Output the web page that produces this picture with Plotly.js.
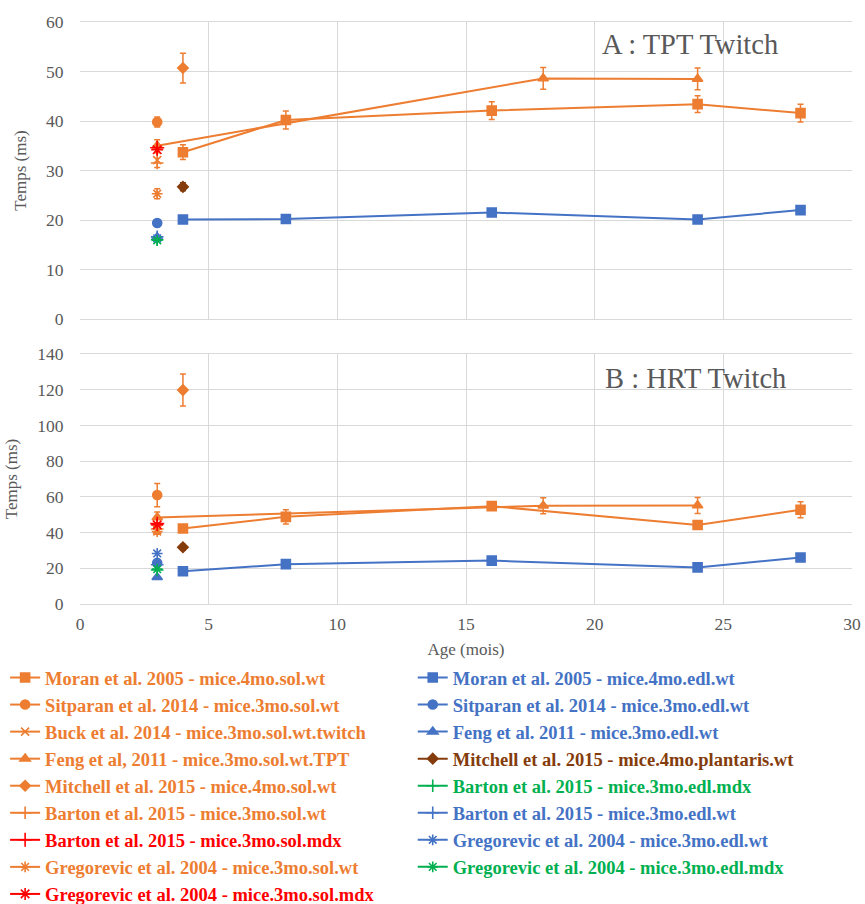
<!DOCTYPE html>
<html>
<head>
<meta charset="utf-8">
<script src="https://cdn.plot.ly/plotly-3.0.1.min.js"></script>
<style>body{margin:0;background:#fff}#chart{width:865px;height:904px}</style>
</head>
<body>
<div id="chart"></div>
<script>
// ---- Data ----
const agesMoran = [4, 8, 16, 24, 28];
const tptMoranSol = [33.7, 40.2, 42.1, 43.4, 41.6];
const tptMoranSolErr = [1.5, 1.8, 1.8, 1.7, 1.8];
const hrtMoranSol = [42.3, 48.8, 54.8, 44.2, 52.8];
const hrtMoranSolErr = [1.5, 4.0, 1.5, 1.5, 4.5];
const tptMoranEdl = [20.1, 20.2, 21.5, 20.1, 22.0];
const tptMoranEdlErr = [0.5, 0.5, 0.5, 0.5, 0.6];
const hrtMoranEdl = [18.3, 22.3, 24.3, 20.5, 26.0];
const hrtMoranEdlErr = [0.8, 1.0, 1.0, 1.0, 1.2];

const agesFengSol = [3, 18, 24];
const tptFengSol = [35.0, 48.6, 48.5];
const tptFengSolErr = [1.2, 2.2, 2.2];
const hrtFengSol = [48.5, 55.0, 55.2];
const hrtFengSolErr = [3.0, 4.5, 4.5];

const age3 = [3];
const age4 = [4];
const tptSitparanSol = [39.8], tptSitparanSolErr = [1.0];
const hrtSitparanSol = [61.0], hrtSitparanSolErr = [6.5];
const tptSitparanEdl = [19.4], hrtSitparanEdl = [23.0];
const tptBuck = [32.1], tptBuckErr = [1.5];
const hrtBuck = [41.5], hrtBuckErr = [2.0];
const tptFengEdl = [16.5], hrtFengEdl = [15.0];
const tptMitchellSol = [50.7], tptMitchellSolErr = [3.0];
const hrtMitchellSol = [119.8], hrtMitchellSolErr = [9.0];
const tptMitchellPlant = [26.7], tptMitchellPlantErr = [0.8];
const hrtMitchellPlant = [31.8], hrtMitchellPlantErr = [1.5];
const tptBartonSolWt = [31.5], hrtBartonSolWt = [42.0];
const tptBartonEdlMdx = [16.0], hrtBartonEdlMdx = [19.0];
const tptBartonSolMdx = [34.6], hrtBartonSolMdx = [45.0];
const tptBartonEdlWt = [16.6], hrtBartonEdlWt = [22.0];
const tptGregSolWt = [25.3], tptGregSolWtErr = [1.0];
const hrtGregSolWt = [40.5], hrtGregSolWtErr = [1.5];
const tptGregEdlWt = [16.3], hrtGregEdlWt = [28.3];
const tptGregSolMdx = [34.2], hrtGregSolMdx = [44.3];
const tptGregEdlMdx = [15.9], hrtGregEdlMdx = [19.5];

const ORANGE = '#ED7D31', BLUE = '#4472C4', BROWN = '#843C0C', GREEN = '#00B050', RED = '#FF0000';

// column 'legend' = left column, 'legend2' = right column
const series = [
  {name:'Moran et al. 2005 - mice.4mo.sol.wt', lg:'legend', c:ORANGE, sym:'square', sz:9, x:agesMoran, a:tptMoranSol, ae:tptMoranSolErr, b:hrtMoranSol, be:hrtMoranSolErr},
  {name:'Sitparan et al. 2014 - mice.3mo.sol.wt', lg:'legend', c:ORANGE, sym:'circle', sz:9, x:age3, a:tptSitparanSol, ae:tptSitparanSolErr, b:hrtSitparanSol, be:hrtSitparanSolErr},
  {name:'Buck et al. 2014 - mice.3mo.sol.wt.twitch', lg:'legend', c:ORANGE, sym:'x-thin-open', sz:8, x:age3, a:tptBuck, ae:tptBuckErr, b:hrtBuck, be:hrtBuckErr},
  {name:'Feng et al, 2011 - mice.3mo.sol.wt.TPT', lg:'legend', c:ORANGE, sym:'triangle-up', sz:9, x:agesFengSol, a:tptFengSol, ae:tptFengSolErr, b:hrtFengSol, be:hrtFengSolErr},
  {name:'Mitchell et al. 2015 - mice.4mo.sol.wt', lg:'legend', c:ORANGE, sym:'diamond', sz:8, x:age4, a:tptMitchellSol, ae:tptMitchellSolErr, b:hrtMitchellSol, be:hrtMitchellSolErr},
  {name:'Barton et al. 2015 - mice.3mo.sol.wt', lg:'legend', c:ORANGE, sym:'cross-thin-open', sz:9, x:age3, a:tptBartonSolWt, b:hrtBartonSolWt},
  {name:'Barton et al. 2015 - mice.3mo.sol.mdx', lg:'legend', c:RED, sym:'cross-thin-open', sz:10, x:age3, a:tptBartonSolMdx, b:hrtBartonSolMdx},
  {name:'Gregorevic et al. 2004 - mice.3mo.sol.wt', lg:'legend', c:ORANGE, sym:'asterisk-open', sz:9, x:age3, a:tptGregSolWt, ae:tptGregSolWtErr, b:hrtGregSolWt, be:hrtGregSolWtErr},
  {name:'Gregorevic et al. 2004 - mice.3mo.sol.mdx', lg:'legend', c:RED, sym:'asterisk-open', sz:10, x:age3, a:tptGregSolMdx, b:hrtGregSolMdx},
  {name:'Moran et al. 2005 - mice.4mo.edl.wt', lg:'legend2', c:BLUE, sym:'square', sz:9, x:agesMoran, a:tptMoranEdl, ae:tptMoranEdlErr, b:hrtMoranEdl, be:hrtMoranEdlErr},
  {name:'Sitparan et al. 2014 - mice.3mo.edl.wt', lg:'legend2', c:BLUE, sym:'circle', sz:9, x:age3, a:tptSitparanEdl, b:hrtSitparanEdl},
  {name:'Feng et al. 2011 - mice.3mo.edl.wt', lg:'legend2', c:BLUE, sym:'triangle-up', sz:9, x:age3, a:tptFengEdl, b:hrtFengEdl},
  {name:'Mitchell et al. 2015 - mice.4mo.plantaris.wt', lg:'legend2', c:BROWN, sym:'diamond', sz:8, x:age4, a:tptMitchellPlant, ae:tptMitchellPlantErr, b:hrtMitchellPlant, be:hrtMitchellPlantErr},
  {name:'Barton et al. 2015 - mice.3mo.edl.mdx', lg:'legend2', c:GREEN, sym:'cross-thin-open', sz:9, x:age3, a:tptBartonEdlMdx, b:hrtBartonEdlMdx},
  {name:'Barton et al. 2015 - mice.3mo.edl.wt', lg:'legend2', c:BLUE, sym:'cross-thin-open', sz:9, x:age3, a:tptBartonEdlWt, b:hrtBartonEdlWt},
  {name:'Gregorevic et al. 2004 - mice.3mo.edl.wt', lg:'legend2', c:BLUE, sym:'asterisk-open', sz:9, x:age3, a:tptGregEdlWt, b:hrtGregEdlWt},
  {name:'Gregorevic et al. 2004 - mice.3mo.edl.mdx', lg:'legend2', c:GREEN, sym:'asterisk-open', sz:9, x:age3, a:tptGregEdlMdx, b:hrtGregEdlMdx}
];

const traces = [];
series.forEach((s, i) => {
  const mk = {symbol:s.sym, size:s.sz, color:s.c, line:{color:s.c, width:1.6}};
  const ln = {color:s.c, width:2};
  const base = {mode:'lines+markers', marker:mk, line:ln, legendgroup:'g'+i, legend:s.lg, hoverinfo:'x+y+name'};
  traces.push(Object.assign({}, base, {
    x:s.x, y:s.a, xaxis:'x', yaxis:'y', showlegend:true,
    name:'<b><span style="color:'+s.c+'">'+s.name+'</span></b>',
    error_y: s.ae ? {type:'data', array:s.ae, visible:true, color:s.c, thickness:1.5, width:3} : {visible:false}
  }));
  traces.push(Object.assign({}, base, {
    x:s.x, y:s.b, xaxis:'x2', yaxis:'y2', showlegend:false, name:s.name,
    error_y: s.be ? {type:'data', array:s.be, visible:true, color:s.c, thickness:1.5, width:3} : {visible:false}
  }));
});

const GRID = '#D9D9D9', TXT = '#595959', FONT = 'Liberation Serif';
const tickF = {family:FONT, size:17.5, color:TXT};
const legF = {family:FONT, size:18.5};
const CLEAR = 'rgba(0,0,0,0)';

const layout = {
  width:865, height:904,
  margin:{l:80, r:13, t:22, b:300, autoexpand:false},
  paper_bgcolor:'#fff', plot_bgcolor:'#fff',
  font:{family:FONT, color:TXT},
  showlegend:true,
  legend:{orientation:'v', x:-0.097, xanchor:'left', y:-0.0945, yanchor:'top',
          itemwidth:30, font:legF, tracegroupgap:0, bgcolor:CLEAR},
  legend2:{orientation:'v', x:0.431, xanchor:'left', y:-0.0945, yanchor:'top',
          itemwidth:30, font:legF, tracegroupgap:0, bgcolor:CLEAR},
  xaxis:{domain:[0,1], range:[0,30], dtick:5, showticklabels:false, showgrid:true, gridcolor:GRID,
         zeroline:false, showline:true, linecolor:GRID, mirror:true, ticks:'', anchor:'y'},
  yaxis:{domain:[0.4897,1], range:[0,60], dtick:10, showgrid:true, gridcolor:GRID, zeroline:false,
         showline:false, ticks:'outside', ticklen:12, tickcolor:CLEAR, tickfont:tickF, anchor:'x',
         title:{text:'Temps (ms)', font:{family:FONT, size:17, color:TXT}, standoff:15}},
  xaxis2:{domain:[0,1], range:[0,30], dtick:5, showgrid:true, gridcolor:GRID, zeroline:false,
          showline:true, linecolor:GRID, mirror:true, ticks:'outside', ticklen:4, tickcolor:CLEAR, tickfont:tickF, anchor:'y2',
          title:{text:'Age (mois)', font:{family:FONT, size:17, color:TXT}, standoff:10}},
  yaxis2:{domain:[0,0.4296], range:[0,140], dtick:20, showgrid:true, gridcolor:GRID, zeroline:false,
          showline:false, ticks:'outside', ticklen:12, tickcolor:CLEAR, tickfont:tickF, anchor:'x2',
          title:{text:'Temps (ms)', font:{family:FONT, size:17, color:TXT}, standoff:15}},
  annotations:[
    {text:'A : TPT Twitch', xref:'x', yref:'y', x:23.7, y:55.4, showarrow:false,
     font:{family:FONT, size:28.5, color:TXT}},
    {text:'B : HRT Twitch', xref:'x2', yref:'y2', x:23.9, y:126.5, showarrow:false,
     font:{family:FONT, size:28.5, color:TXT}}
  ]
};

Plotly.newPlot('chart', traces, layout, {displayModeBar:false, staticPlot:true});
</script>
</body>
</html>
